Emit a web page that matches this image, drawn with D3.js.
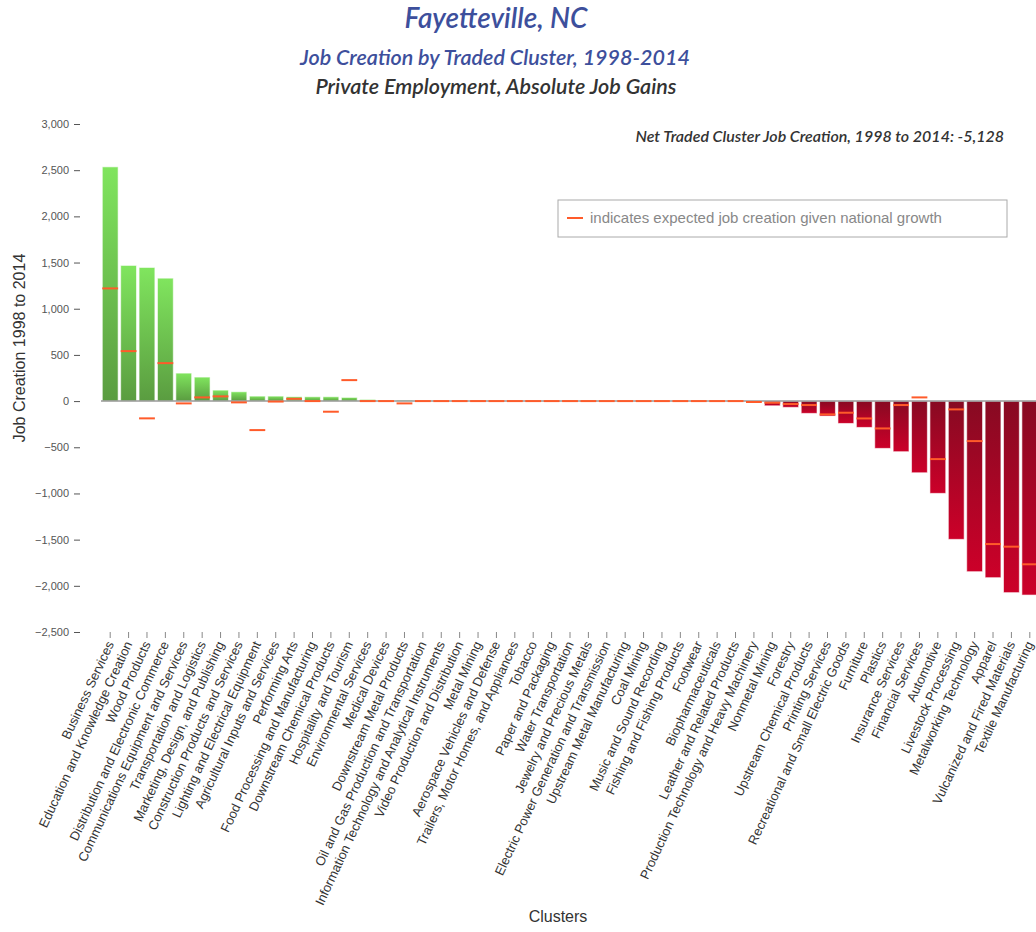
<!DOCTYPE html>
<meta charset="utf-8">
<style>

    body {
        margin: 0;
        background: #fff;
        font: 11px "Liberation Sans", Arial, sans-serif;
    }

    .title {
        font-family: Lato, sans-serif;
        font-style: italic;
        font-weight: 600;
        text-anchor: middle;
    }

    .y.axis text {
        fill: #555;
        font-size: 11px;
    }
    .y.axis line {
        stroke: #555;
    }

    .x.axis text {
        fill: #333;
        font-size: 13px;
    }
    .x.axis line {
        stroke: #888;
    }

    .axis path.domain {
        display: none;
    }

    .bar {
        stroke: #fff;
        stroke-opacity: 0.6;
        stroke-width: 1;
    }

    .expected {
        stroke: #ff5b2a;
        stroke-width: 2;
    }

    .zero {
        stroke: #999;
        stroke-width: 1.5;
    }

</style>
<body>
<script src="https://d3js.org/d3.v7.min.js"></script>
<script>

    var clusters = [
        "Business Services", "Education and Knowledge Creation", "Wood Products",
        "Distribution and Electronic Commerce", "Communications Equipment and Services",
        "Transportation and Logistics", "Marketing, Design, and Publishing",
        "Construction Products and Services", "Lighting and Electrical Equipment",
        "Agricultural Inputs and Services", "Performing Arts", "Food Processing and Manufacturing",
        "Downstream Chemical Products", "Hospitality and Tourism", "Environmental Services",
        "Medical Devices", "Downstream Metal Products", "Oil and Gas Production and Transportation",
        "Information Technology and Analytical Instruments", "Video Production and Distribution",
        "Metal Mining", "Aerospace Vehicles and Defense", "Trailers, Motor Homes, and Appliances",
        "Tobacco", "Paper and Packaging", "Water Transportation", "Jewelry and Precious Metals",
        "Electric Power Generation and Transmission", "Upstream Metal Manufacturing", "Coal Mining",
        "Music and Sound Recording", "Fishing and Fishing Products", "Footwear", "Biopharmaceuticals",
        "Leather and Related Products", "Production Technology and Heavy Machinery", "Nonmetal Mining",
        "Forestry", "Upstream Chemical Products", "Printing Services",
        "Recreational and Small Electric Goods", "Furniture", "Plastics", "Insurance Services",
        "Financial Services", "Automotive", "Livestock Processing", "Metalworking Technology",
        "Apparel", "Vulcanized and Fired Materials", "Textile Manufacturing"
    ];

    // actual job creation 1998-2014
    var jobGains = [
        2536, 1469, 1447, 1331, 303, 260, 119, 101, 54, 54, 47, 47, 47, 40, 18, 0, 10,
        0, 0, 0, 0, 0, 0, 0, 0, 0, 0, 0, 0, 0, 0, 0, 0, 0, 0, 0,
        -51, -68, -133, -162, -242, -285, -512, -548, -776, -999, -1497, -1847, -1912, -2074, -2100
    ];

    // expected job creation given national growth
    var expectedGains = [
        1220, 541, -187, 411, -25, 40, 51, -14, -314, -5, 25, 0, -115, 227, 0, 0, -25,
        0, 0, 0, 0, 0, 0, 0, 0, 0, 0, 0, 0, 0, 0, 0, 0, 0, 0, -10,
        -18, -32, -43, -144, -126, -188, -296, -43, 40, -628, -90, -433, -1548, -1576, -1767
    ];

    var yTicks = [-2500, -2000, -1500, -1000, -500, 0, 500, 1000, 1500, 2000, 2500, 3000];

    var netJobs = "-5,128";

    var data = clusters.map(function(c, i) {
        return {name: c, value: jobGains[i], expected: expectedGains[i]};
    });

    var W = 1036, H = 932;

    var x = d3.scaleBand()
        .domain(clusters)
        .range([101, 1039])
        .paddingInner(0.14)
        .paddingOuter(0.07);

    var y = d3.scaleLinear()
        .domain([-2500, 3000])
        .range([632, 124]);

    var svg = d3.select("body").append("svg")
        .attr("width", W)
        .attr("height", H);

    var defs = svg.append("defs");

    var gGreen = defs.append("linearGradient")
        .attr("id", "gradGreen")
        .attr("x1", 0).attr("y1", 0).attr("x2", 0).attr("y2", 1);
    gGreen.append("stop").attr("offset", "0%").attr("stop-color", "#80e55e");
    gGreen.append("stop").attr("offset", "100%").attr("stop-color", "#5a9c40");

    var gRed = defs.append("linearGradient")
        .attr("id", "gradRed")
        .attr("x1", 0).attr("y1", 0).attr("x2", 0).attr("y2", 1);
    gRed.append("stop").attr("offset", "0%").attr("stop-color", "#870a22");
    gRed.append("stop").attr("offset", "100%").attr("stop-color", "#cc0029");

    // titles
    svg.append("text").attr("class", "title")
        .attr("x", 496).attr("y", 28)
        .style("font-size", "28px").style("fill", "#3d4f9c")
        .text("Fayetteville, NC");

    svg.append("text").attr("class", "title")
        .attr("x", 495).attr("y", 65)
        .style("font-size", "21.5px").style("fill", "#3d4f9c")
        .text("Job Creation by Traded Cluster, 1998-2014");

    svg.append("text").attr("class", "title")
        .attr("x", 496).attr("y", 94)
        .style("font-size", "21.5px").style("fill", "#333")
        .text("Private Employment, Absolute Job Gains");

    svg.append("text")
        .attr("x", 1004).attr("y", 142)
        .style("font-family", "Lato, sans-serif")
        .style("font-style", "italic")
        .style("font-weight", 600)
        .style("font-size", "16px")
        .style("fill", "#333")
        .style("text-anchor", "end")
        .text("Net Traded Cluster Job Creation, 1998 to 2014: " + netJobs);

    // axes
    svg.append("g")
        .attr("class", "y axis")
        .attr("transform", "translate(80,0)")
        .call(d3.axisLeft(y).tickValues(yTicks).tickFormat(d3.format(",")).tickSize(6).tickPadding(5));

    var xAxis = svg.append("g")
        .attr("class", "x axis")
        .attr("transform", "translate(0,632)")
        .call(d3.axisBottom(x).tickSize(6).tickPadding(4));

    xAxis.selectAll("text")
        .style("text-anchor", "end")
        .attr("dx", "-0.7em")
        .attr("dy", "-0.1em")
        .attr("transform", "rotate(-65)");

    // bars
    svg.append("g").selectAll("rect")
        .data(data)
        .enter().append("rect")
        .attr("class", "bar")
        .attr("x", function(d) { return x(d.name); })
        .attr("width", x.bandwidth())
        .attr("y", function(d) { return y(Math.max(0, d.value)); })
        .attr("height", function(d) { return Math.abs(y(d.value) - y(0)); })
        .attr("fill", function(d) { return d.value >= 0 ? "url(#gradGreen)" : "url(#gradRed)"; });

    svg.append("line")
        .attr("class", "zero")
        .attr("x1", x.range()[0]).attr("x2", x.range()[1])
        .attr("y1", y(0)).attr("y2", y(0));

    svg.append("g").selectAll("line")
        .data(data)
        .enter().append("line")
        .attr("class", "expected")
        .attr("x1", function(d) { return x(d.name); })
        .attr("x2", function(d) { return x(d.name) + x.bandwidth(); })
        .attr("y1", function(d) { return y(d.expected); })
        .attr("y2", function(d) { return y(d.expected); });

    // legend
    var legend = svg.append("g").attr("transform", "translate(558,200)");
    legend.append("rect")
        .attr("width", 449).attr("height", 37)
        .attr("fill", "#fff")
        .attr("stroke", "#aaa");
    legend.append("line")
        .attr("class", "expected")
        .attr("x1", 9).attr("x2", 25)
        .attr("y1", 18).attr("y2", 18);
    legend.append("text")
        .attr("x", 32).attr("y", 23)
        .style("font-size", "15px")
        .style("fill", "#888")
        .text("indicates expected job creation given national growth");

    // axis titles
    svg.append("text")
        .attr("transform", "translate(25,348) rotate(-90)")
        .style("text-anchor", "middle")
        .style("font-size", "16px")
        .style("fill", "#333")
        .text("Job Creation 1998 to 2014");

    svg.append("text")
        .attr("x", 558).attr("y", 922)
        .style("text-anchor", "middle")
        .style("font-size", "16px")
        .style("fill", "#333")
        .text("Clusters");

</script>
